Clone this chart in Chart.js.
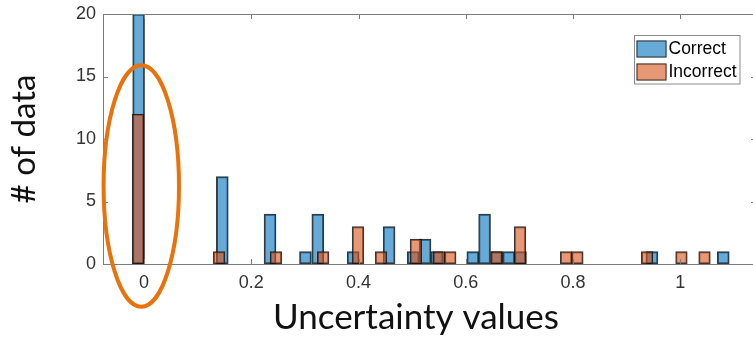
<!DOCTYPE html>
<html>
<head>
<meta charset="utf-8">
<script src="https://cdn.jsdelivr.net/npm/chart.js@4"></script>
<style>
  html, body { margin: 0; padding: 0; background: #fff; overflow: hidden; }
  #wrap { position: relative; width: 760px; height: 337px; }
</style>
</head>
<body>
<div id="wrap"><canvas id="chart"></canvas></div>
<script>
// ── DATA (bin centres + counts) ─────────────────────────────────────────────
const seriesLabels = ['Correct', 'Incorrect']

const correctBins   = [-0.010, 0.146, 0.235, 0.301, 0.324, 0.390, 0.457, 0.502, 0.524, 0.546,
                       0.613, 0.635, 0.658, 0.680, 0.702, 0.947, 1.080]
const correctCounts = [20, 7, 4, 1, 4, 1, 3, 1, 2, 1,
                       1, 4, 1, 1, 1, 1, 1]

const incorrectBins   = [-0.011, 0.140, 0.246, 0.334, 0.399, 0.442, 0.507, 0.550, 0.571,
                         0.657, 0.701, 0.787, 0.808, 0.938, 1.002, 1.045]
const incorrectCounts = [12, 1, 1, 1, 3, 1, 2, 1, 1,
                         1, 3, 1, 1, 1, 1, 1]

const xTicks = [0, 0.2, 0.4, 0.6, 0.8, 1]
const yTicks = [0, 5, 10, 15, 20]

const xTitle = 'Uncertainty values'
const yTitle = '# of data'

// ── HELPERS ────────────────────────────────────────────────────────────────
function toPoints(xs, ys) {
  return xs.map((x, i) => ({ x, y: ys[i] }))
}

const tickFont = { family: 'Liberation Sans, Arial, sans-serif', size: 18 }
const axisGray = '#7d7d7d'

// box, inward ticks, highlight ellipse, legend and x label (MATLAB/PPT look)
const decorations = {
  id: 'decorations',
  afterDatasetsDraw(chart) {
    const { ctx, chartArea: a, scales: { x, y } } = chart
    ctx.save()

    // axes box
    ctx.strokeStyle = axisGray
    ctx.lineWidth = 1
    ctx.strokeRect(a.left + 0.5, a.top + 0.5, a.right - a.left, a.bottom - a.top)

    // inward ticks
    ctx.beginPath()
    xTicks.forEach(v => {
      const px = Math.round(x.getPixelForValue(v)) + 0.5
      ctx.moveTo(px, a.bottom); ctx.lineTo(px, a.bottom - 5)
      ctx.moveTo(px, a.top);    ctx.lineTo(px, a.top + 5)
    })
    yTicks.forEach(v => {
      const py = Math.round(y.getPixelForValue(v)) + 0.5
      ctx.moveTo(a.left, py);  ctx.lineTo(a.left + 5, py)
      ctx.moveTo(a.right, py); ctx.lineTo(a.right - 5, py)
    })
    ctx.stroke()

    // orange ellipse around the zero bin
    const cx = x.getPixelForValue(-0.005)
    const cy = y.getPixelForValue(6.24)
    const rx = x.getPixelForValue(0.0703) - x.getPixelForValue(0)
    const ry = y.getPixelForValue(0) - y.getPixelForValue(9.66)
    ctx.beginPath()
    ctx.ellipse(cx, cy, rx, ry, 0, 0, Math.PI * 2)
    ctx.strokeStyle = '#e8720c'
    ctx.lineWidth = 4
    ctx.stroke()

    // legend box
    const lx = 634.5, ly = 35.5, lw = 105.5, lh = 48.5
    ctx.fillStyle = '#fff'
    ctx.fillRect(lx, ly, lw, lh)
    ctx.strokeStyle = '#8a8a8a'
    ctx.lineWidth = 1
    ctx.strokeRect(lx, ly, lw, lh)
    ctx.font = '17.5px Liberation Sans, Arial, sans-serif'
    ctx.textBaseline = 'middle'
    ctx.textAlign = 'left'
    chart.data.datasets.forEach((ds, i) => {
      const sy = ly + 5 + i * 23
      ctx.fillStyle = '#fff'
      ctx.fillRect(lx + 2, sy, 30, 17)
      ctx.fillStyle = ds.backgroundColor
      ctx.fillRect(lx + 2, sy, 30, 17)
      ctx.strokeStyle = '#333'
      ctx.strokeRect(lx + 2.5, sy + 0.5, 29, 16)
      ctx.fillStyle = '#000'
      ctx.fillText(ds.label, lx + 34, sy + 9)
    })

    // x label (placed like the slide text box)
    ctx.font = '35px Lato, sans-serif'
    ctx.textAlign = 'center'
    ctx.fillStyle = '#111'
    ctx.fillText(xTitle, 416, 318)

    ctx.restore()
  }
}

// ── CHART ──────────────────────────────────────────────────────────────────
new Chart(document.getElementById('chart'), {
  type: 'bar',
  data: {
    datasets: [
      {
        label: seriesLabels[0],
        data: toPoints(correctBins, correctCounts),
        backgroundColor: 'rgba(0,114,189,0.6)',
        borderColor: 'rgba(20,20,20,0.85)',
        borderWidth: 1.3,
        borderSkipped: false,
        barThickness: 11.9,
        grouped: false,
        order: 2
      },
      {
        label: seriesLabels[1],
        data: toPoints(incorrectBins, incorrectCounts),
        backgroundColor: 'rgba(217,83,25,0.6)',
        borderColor: 'rgba(20,20,20,0.85)',
        borderWidth: 1.3,
        borderSkipped: false,
        barThickness: 11.6,
        grouped: false,
        order: 1
      }
    ]
  },
  options: {
    responsive: true,
    maintainAspectRatio: false,
    animation: false,
    layout: { padding: { top: 14, right: 4, bottom: 0, left: 0 } },
    plugins: { legend: { display: false }, tooltip: { enabled: false } },
    scales: {
      x: {
        type: 'linear',
        offset: false,
        min: -0.0764,
        max: 1.141,
        afterBuildTicks: s => { s.ticks = xTicks.map(v => ({ value: v })) },
        afterFit: s => { s.height = 73; s.paddingLeft = 0; s.paddingRight = 0 },
        grid: { display: false, drawTicks: false },
        border: { display: false },
        ticks: { font: tickFont, color: '#333', padding: 8, maxRotation: 0, callback: v => String(v) }
      },
      y: {
        min: 0,
        max: 20,
        afterBuildTicks: s => { s.ticks = yTicks.map(v => ({ value: v })) },
        afterFit: s => { s.width = 103; s.paddingTop = 0; s.paddingBottom = 0 },
        grid: { display: false, drawTicks: false },
        border: { display: false },
        ticks: { font: tickFont, color: '#333', padding: 7 },
        title: {
          display: true,
          text: yTitle,
          font: { family: 'Lato, sans-serif', size: 33 },
          color: '#111',
          padding: { top: 5, bottom: 0 }
        }
      }
    }
  },
  plugins: [decorations]
})
</script>
</body>
</html>
